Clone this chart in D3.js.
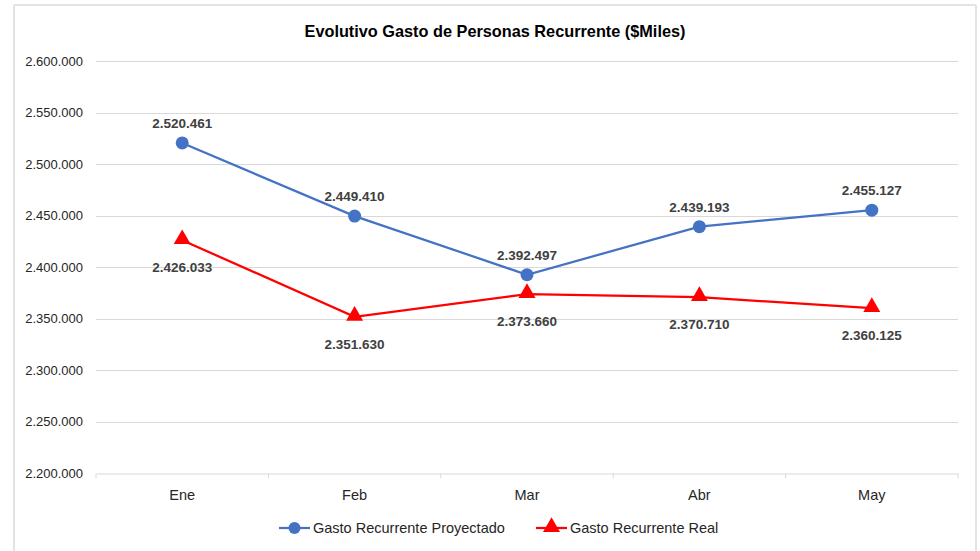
<!DOCTYPE html>
<meta charset="utf-8">
<style>
body { margin: 0; background: #fff; }
text { font-family: "Liberation Sans", Arial, sans-serif; }
.grid line { stroke: #d9d9d9; stroke-width: 1; }
.ytick { font-size: 13px; fill: #262626; }
.xtick { font-size: 14.5px; fill: #262626; }
.dlabel { font-size: 13.5px; font-weight: bold; fill: #404040; }
.legend text { font-size: 14.5px; fill: #262626; }
</style>
<svg width="980" height="551"></svg>
<script src="https://cdn.jsdelivr.net/npm/d3@7"></script>
<script>

var categories = ["Ene", "Feb", "Mar", "Abr", "May"];
var proyectado = [2520461, 2449410, 2392497, 2439193, 2455127];
var real = [2426033, 2351630, 2373660, 2370710, 2360125];
var yTicks = [2200000, 2250000, 2300000, 2350000, 2400000, 2450000, 2500000, 2550000, 2600000];
var seriesNames = ["Gasto Recurrente Proyectado", "Gasto Recurrente Real"];

var svg = d3.select("svg"),
    width = +svg.attr("width"),
    height = +svg.attr("height");

// outer frame like the spreadsheet chart area
svg.append("rect").attr("x", 0).attr("y", 0).attr("width", width).attr("height", height).attr("fill", "#fff");
svg.append("line").attr("x1", 14).attr("x2", 14).attr("y1", 5).attr("y2", height).attr("stroke", "#e3e3e3").attr("stroke-width", 2);
svg.append("line").attr("x1", 14).attr("x2", 976).attr("y1", 5).attr("y2", 5).attr("stroke", "#e3e3e3").attr("stroke-width", 2);
svg.append("line").attr("x1", 976).attr("x2", 976).attr("y1", 5).attr("y2", height).attr("stroke", "#e3e3e3").attr("stroke-width", 2);

var fmt = function(v) { return d3.format(",")(v).replace(/,/g, "."); };

var x = d3.scaleBand().domain(categories).range([96, 958]);
var y = d3.scaleLinear().domain([2200000, 2600000]).range([473, 61]);

svg.append("text")
    .attr("x", 495).attr("y", 37)
    .attr("text-anchor", "middle")
    .style("font-size", "16.3px").style("font-weight", "bold").style("fill", "#000")
    .text("Evolutivo Gasto de Personas Recurrente ($Miles)");

// gridlines
svg.append("g").attr("class", "grid")
  .selectAll("line").data(yTicks.slice(1)).enter().append("line")
    .attr("x1", 96).attr("x2", 958)
    .attr("y1", function(d) { return Math.round(y(d)) + 0.5; })
    .attr("y2", function(d) { return Math.round(y(d)) + 0.5; });

// y labels
svg.append("g").selectAll("text").data(yTicks).enter().append("text")
    .attr("class", "ytick")
    .attr("x", 83).attr("y", function(d) { return y(d) + 4.5; })
    .attr("text-anchor", "end")
    .text(fmt);

// x axis
var xAxis = d3.axisBottom(x).tickSize(0).tickPadding(16);
var gx = svg.append("g").attr("transform", "translate(0," + (Math.round(y(2200000)) + 0.5) + ")").call(xAxis);
gx.select(".domain").attr("stroke", "#d9d9d9");
gx.selectAll("text").attr("class", "xtick").style("font-family", null).style("font-size", null);
gx.selectAll(".sep").data(d3.range(categories.length + 1)).enter().append("line")
    .attr("x1", function(i) { return 96 + i * x.step(); })
    .attr("x2", function(i) { return 96 + i * x.step(); })
    .attr("y1", 0).attr("y2", 5).attr("stroke", "#d9d9d9");

var line = d3.line()
    .x(function(d, i) { return x(categories[i]) + x.bandwidth() / 2; })
    .y(function(d) { return y(d); });

var triangle = d3.symbol().type(d3.symbolTriangle).size(125);

// blue series
svg.append("path").datum(proyectado).attr("d", line)
    .attr("fill", "none").attr("stroke", "#4472C4").attr("stroke-width", 2.25);
svg.append("g").selectAll("circle").data(proyectado).enter().append("circle")
    .attr("cx", function(d, i) { return x(categories[i]) + x.bandwidth() / 2; })
    .attr("cy", y).attr("r", 6.5).attr("fill", "#4472C4");

// red series
svg.append("path").datum(real).attr("d", line)
    .attr("fill", "none").attr("stroke", "#FF0000").attr("stroke-width", 2.25);
svg.append("g").selectAll("path").data(real).enter().append("path")
    .attr("d", triangle)
    .attr("transform", function(d, i) { return "translate(" + (x(categories[i]) + x.bandwidth() / 2) + "," + (y(d) - 1) + ")"; })
    .attr("fill", "#FF0000");

// data labels
svg.append("g").selectAll("text").data(proyectado).enter().append("text")
    .attr("class", "dlabel")
    .attr("x", function(d, i) { return x(categories[i]) + x.bandwidth() / 2; })
    .attr("y", function(d) { return y(d) - 15; })
    .attr("text-anchor", "middle")
    .text(fmt);
svg.append("g").selectAll("text").data(real).enter().append("text")
    .attr("class", "dlabel")
    .attr("x", function(d, i) { return x(categories[i]) + x.bandwidth() / 2; })
    .attr("y", function(d) { return y(d) + 32; })
    .attr("text-anchor", "middle")
    .text(fmt);

// legend
var legend = svg.append("g").attr("class", "legend");
var lx = [279, 536];
var colors = ["#4472C4", "#FF0000"];
seriesNames.forEach(function(name, i) {
  var g = legend.append("g").attr("transform", "translate(" + lx[i] + ",528)");
  g.append("line").attr("x1", 0).attr("x2", 31).attr("y1", 0).attr("y2", 0)
      .attr("stroke", colors[i]).attr("stroke-width", 2.25);
  if (i === 0) {
    g.append("circle").attr("cx", 15.5).attr("cy", 0).attr("r", 6).attr("fill", colors[i]);
  } else {
    g.append("path").attr("d", triangle).attr("transform", "translate(15.5,-1)").attr("fill", colors[i]);
  }
  g.append("text").attr("x", 34).attr("y", 5).text(name);
});

</script>
